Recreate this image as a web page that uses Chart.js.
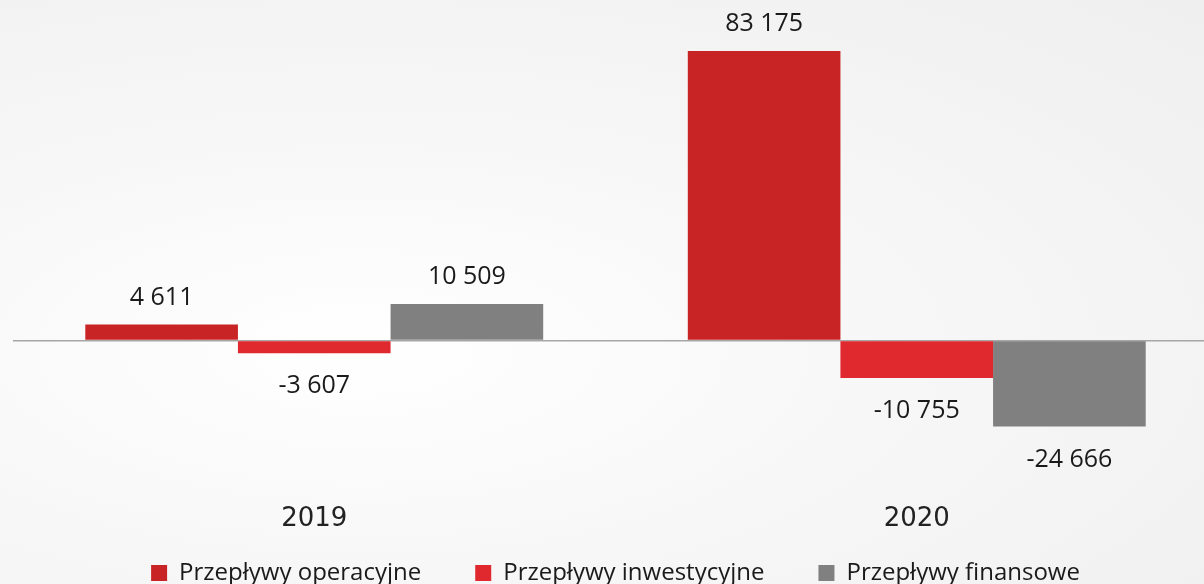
<!DOCTYPE html>
<html lang="pl">
<head>
<meta charset="utf-8">
<script src="https://cdn.jsdelivr.net/npm/chart.js@4"></script>
<style>
  html, body { margin: 0; padding: 0; overflow: hidden; }
  body {
    width: 1204px; height: 584px;
    background: radial-gradient(ellipse at 30% 60%, #ffffff 0%, #f7f7f7 45%, #efefef 100%);
  }
  #wrap { position: absolute; left: 0; top: 0; width: 1240px; height: 595px; }
</style>
</head>
<body>
<div id="wrap"><canvas id="chart"></canvas></div>
<script>
const years = ["2019", "2020"];
const operacyjne = [4611, 83175];
const inwestycyjne = [-3607, -10755];
const finansowe = [10509, -24666];

const fmt = (v) => {
    const s = Math.abs(v).toString().replace(/\B(?=(\d{3})+(?!\d))/g, " ");
    return (v < 0 ? "-" : "") + s;
};

// labels above positive bars, below negative ones
const valueLabels = {
    id: "valueLabels",
    afterDatasetsDraw(chart) {
        const { ctx } = chart;
        ctx.save();
        ctx.font = "25px 'Open Sans'";
        ctx.fillStyle = "#1a1a1a";
        ctx.textAlign = "center";
        ctx.textBaseline = "middle";
        chart.data.datasets.forEach((ds, i) => {
            chart.getDatasetMeta(i).data.forEach((bar, j) => {
                const v = ds.data[j];
                const y = v >= 0 ? bar.y - 27 : bar.y + 33;
                ctx.fillText(fmt(v), bar.x, y);
            });
        });
        ctx.restore();
    },
};

new Chart(document.getElementById("chart"), {
    type: "bar",
    data: {
        labels: years,
        datasets: [
            { label: "Przepływy operacyjne", data: operacyjne, backgroundColor: "#c82325" },
            { label: "Przepływy inwestycyjne", data: inwestycyjne, backgroundColor: "#e0282f" },
            { label: "Przepływy finansowe", data: finansowe, backgroundColor: "#808080" },
        ],
    },
    options: {
        responsive: true,
        maintainAspectRatio: false,
        animation: false,
        layout: { padding: { left: 13, right: 22, top: 0, bottom: 0 } },
        datasets: { bar: { barPercentage: 1, categoryPercentage: 0.76 } },
        scales: {
            x: {
                grid: { display: false },
                border: { display: false },
                ticks: { color: "#222", font: { family: "DejaVu Sans", size: 26 }, padding: 20 },
            },
            y: {
                min: -38854,
                max: 97853,
                display: true,
                border: { display: false },
                afterBuildTicks: (axis) => { axis.ticks = [{ value: 0 }]; },
                ticks: { display: false },
                grid: { color: "#a6a6a6", lineWidth: 1.5, drawTicks: false },
            },
        },
        plugins: {
            legend: {
                position: "bottom",
                labels: {
                    color: "#1a1a1a",
                    font: { family: "Open Sans", size: 24 },
                    boxWidth: 16,
                    boxHeight: 16,
                    padding: 6,
                    // padding also sets the vertical gap, so widen the
                    // horizontal gap between items with trailing spaces
                    generateLabels: (chart) =>
                        Chart.defaults.plugins.legend.labels
                            .generateLabels(chart)
                            .map((item, i, all) => ({
                                ...item,
                                text: i < all.length - 1 ? item.text + "\u2003\u2003" : item.text,
                            })),
                },
            },
            tooltip: { enabled: false },
        },
    },
    plugins: [valueLabels],
});
</script>
</body>
</html>
